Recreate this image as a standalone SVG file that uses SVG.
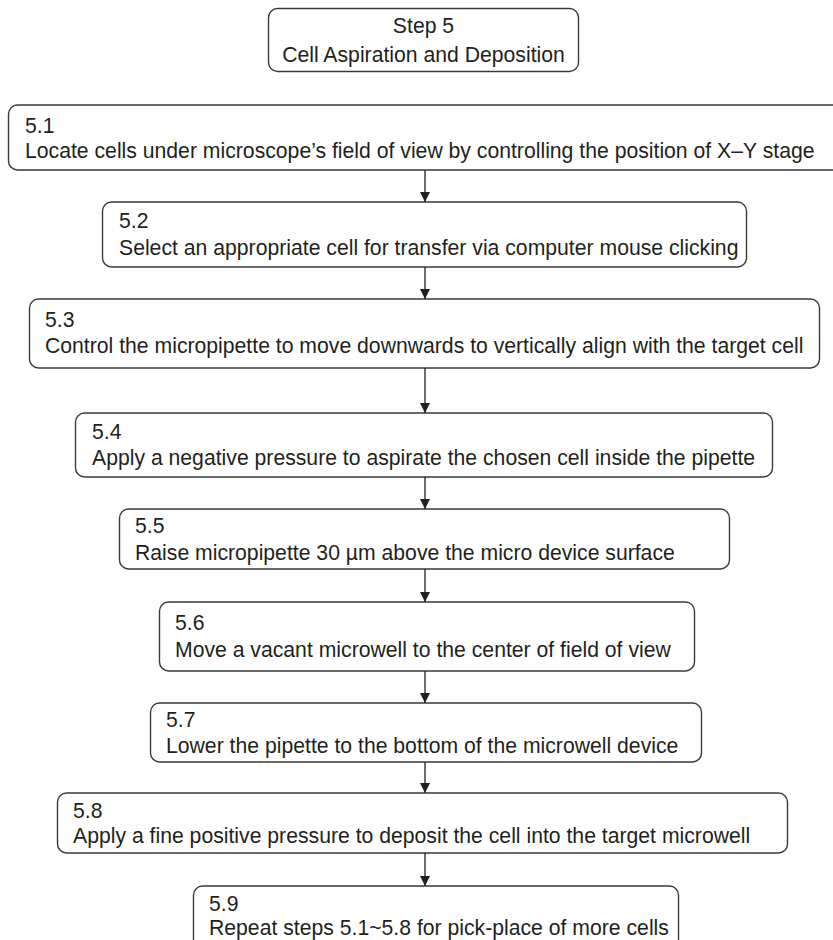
<svg xmlns="http://www.w3.org/2000/svg" width="833" height="940" viewBox="0 0 833 940">
<defs>
<style>
.box{fill:#fff;stroke:#3a3a3a;stroke-width:1.4}
.t{font-family:"Liberation Sans",Arial,sans-serif;font-size:21.2px;fill:#231f20}
.c{text-anchor:middle}
.ln{stroke:#231f20;stroke-width:1.3;fill:none}
</style>
<marker id="ah" viewBox="0 0 10 10" refX="10" refY="5" markerWidth="10" markerHeight="10" markerUnits="userSpaceOnUse" orient="auto">
<path d="M0,0 L10,5 L0,10 Z" fill="#231f20"/>
</marker>
</defs>
<rect width="833" height="940" fill="#fff"/>
<g id="step5">
<rect class="box" x="268.5" y="8.5" width="310" height="63" rx="9"/>
<text class="t c" x="423.5" y="33">Step 5</text>
<text class="t c" x="423.5" y="62">Cell Aspiration and Deposition</text>
</g>
<g id="s51">
<rect class="box" x="8.5" y="105" width="840" height="65" rx="9"/>
<text class="t" x="25" y="133">5.1</text>
<text class="t" x="25" y="158">Locate cells under microscope’s field of view by controlling the position of X–Y stage</text>
</g>
<g id="s52">
<rect class="box" x="102.5" y="202" width="644" height="65" rx="9"/>
<text class="t" x="119" y="228">5.2</text>
<text class="t" x="119" y="255">Select an appropriate cell for transfer via computer mouse clicking</text>
</g>
<g id="s53">
<rect class="box" x="29.5" y="299" width="790" height="69" rx="9"/>
<text class="t" x="45" y="327">5.3</text>
<text class="t" x="45" y="353">Control the micropipette to move downwards to vertically align with the target cell</text>
</g>
<g id="s54">
<rect class="box" x="75.5" y="413" width="697" height="64" rx="9"/>
<text class="t" x="92" y="439">5.4</text>
<text class="t" x="92" y="465">Apply a negative pressure to aspirate the chosen cell inside the pipette</text>
</g>
<g id="s55">
<rect class="box" x="119.5" y="509" width="610" height="60" rx="9"/>
<text class="t" x="135" y="533">5.5</text>
<text class="t" x="135" y="560">Raise micropipette 30 µm above the micro device surface</text>
</g>
<g id="s56">
<rect class="box" x="159.5" y="602" width="535" height="69" rx="9"/>
<text class="t" x="175" y="630">5.6</text>
<text class="t" x="175" y="657">Move a vacant microwell to the center of field of view</text>
</g>
<g id="s57">
<rect class="box" x="150.5" y="703" width="551" height="59" rx="9"/>
<text class="t" x="166" y="727">5.7</text>
<text class="t" x="166" y="753">Lower the pipette to the bottom of the microwell device</text>
</g>
<g id="s58">
<rect class="box" x="57.5" y="793" width="730" height="60" rx="9"/>
<text class="t" x="73" y="818">5.8</text>
<text class="t" x="73" y="843">Apply a fine positive pressure to deposit the cell into the target microwell</text>
</g>
<g id="s59">
<rect class="box" x="193.5" y="886" width="485" height="70" rx="9"/>
<text class="t" x="209" y="911">5.9</text>
<text class="t" x="209" y="935">Repeat steps 5.1~5.8 for pick-place of more cells</text>
</g>
<g id="connectors">
<line class="ln" x1="425" y1="170" x2="425" y2="202" marker-end="url(#ah)"/>
<line class="ln" x1="425" y1="267" x2="425" y2="299" marker-end="url(#ah)"/>
<line class="ln" x1="425" y1="368" x2="425" y2="413" marker-end="url(#ah)"/>
<line class="ln" x1="425" y1="477" x2="425" y2="509" marker-end="url(#ah)"/>
<line class="ln" x1="425" y1="569" x2="425" y2="602" marker-end="url(#ah)"/>
<line class="ln" x1="425" y1="671" x2="425" y2="703" marker-end="url(#ah)"/>
<line class="ln" x1="425" y1="762" x2="425" y2="793" marker-end="url(#ah)"/>
<line class="ln" x1="425" y1="853" x2="425" y2="886" marker-end="url(#ah)"/>
</g>
</svg>
